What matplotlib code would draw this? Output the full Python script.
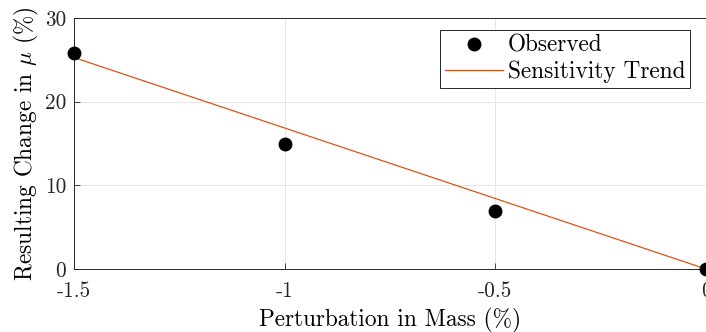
import matplotlib
matplotlib.use("Agg")
import matplotlib.pyplot as plt
import numpy as np

# data
mass_perturbation = [-1.5, -1.0, -0.5, 0.0]
mu_change = [25.8, 14.9, 6.9, 0.0]
trend_slope = -16.85  # % change in mu per % mass

x_ticks = [-1.5, -1.0, -0.5, 0.0]
x_tick_labels = ["-1.5", "-1", "-0.5", "0"]
y_ticks = [0, 10, 20, 30]
y_tick_labels = ["0", "10", "20", "30"]

plt.rcParams["font.family"] = "serif"
plt.rcParams["font.serif"] = ["cmr10"]
plt.rcParams["mathtext.fontset"] = "cm"
plt.rcParams["axes.unicode_minus"] = False

fig = plt.figure(figsize=(7.06, 3.32), dpi=100)
ax = fig.add_axes([0.1048, 0.1898, 0.8952, 0.756])

trend_x = np.array([min(mass_perturbation), max(mass_perturbation)])
trend_y = trend_slope * trend_x

ax.plot(mass_perturbation, mu_change, linestyle="none", marker="o", color="black",
        markersize=9, label="Observed", zorder=3, clip_on=False)
ax.plot(trend_x, trend_y, color="#D95319", lw=0.9, label="Sensitivity Trend", zorder=2)

ax.set_xlim(-1.5, 0)
ax.set_ylim(0, 30)
ax.set_xticks(x_ticks)
ax.set_xticklabels(x_tick_labels)
ax.set_yticks(y_ticks)
ax.set_yticklabels(y_tick_labels)
ax.tick_params(direction="in", length=4, width=0.6, labelsize=15.3, colors="#262626")
ax.tick_params(axis="x", pad=9)
ax.tick_params(axis="y", pad=5.5)
ax.grid(True, color="#e6e6e6", lw=0.7)
ax.set_axisbelow(True)
for s in ax.spines.values():
    s.set_color("#262626")
    s.set_linewidth(0.7)

ax.set_xlabel("Perturbation in Mass (%)", fontsize=16.8, labelpad=5)
ax.set_ylabel(r"Resulting Change in $\mu$ (%)", fontsize=16.8, labelpad=3)

leg = ax.legend(loc="upper right", fontsize=16.8, frameon=True, fancybox=False,
                edgecolor="#262626", framealpha=1, borderpad=0.2, labelspacing=0.15,
                handlelength=2.5, handletextpad=0.2, borderaxespad=0.0,
                bbox_to_anchor=(0.975, 0.952))
leg.get_frame().set_linewidth(0.7)

fig.savefig("out.png", dpi=100)
